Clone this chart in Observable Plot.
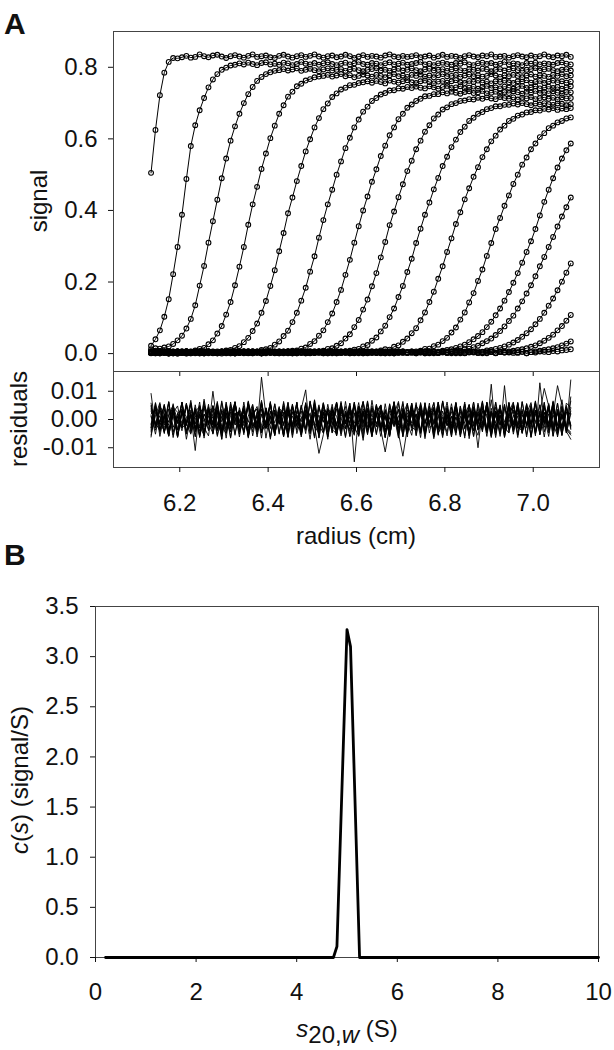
<!DOCTYPE html>
<html><head><meta charset="utf-8">
<script src="https://cdn.jsdelivr.net/npm/d3@7"></script>
<script src="https://cdn.jsdelivr.net/npm/@observablehq/plot@0.6"></script>
<style>
html,body{margin:0;padding:0;background:#fff;}
#wrap{position:relative;width:614px;height:1050px;background:#fff;overflow:hidden;}
#wrap svg{position:absolute;left:0;top:0;}
</style></head><body><div id="wrap"></div>
<script>
// radial grid (cm)
const radius = [
6.135,6.145,6.155,6.165,6.175,6.185,6.195,6.205,6.215,6.225,
6.235,6.245,6.255,6.265,6.275,6.285,6.295,6.305,6.315,6.325,
6.335,6.345,6.355,6.365,6.375,6.385,6.395,6.405,6.415,6.425,
6.435,6.445,6.455,6.465,6.475,6.485,6.495,6.505,6.515,6.525,
6.535,6.545,6.555,6.565,6.575,6.585,6.595,6.605,6.615,6.625,
6.635,6.645,6.655,6.665,6.675,6.685,6.695,6.705,6.715,6.725,
6.735,6.745,6.755,6.765,6.775,6.785,6.795,6.805,6.815,6.825,
6.835,6.845,6.855,6.865,6.875,6.885,6.895,6.905,6.915,6.925,
6.935,6.945,6.955,6.965,6.975,6.985,6.995,7.005,7.015,7.025,
7.035,7.045,7.055,7.065,7.075,7.085];

// signal of each scan, in thousandths
const scan01 = [505,625,722,785,815,826,825,828,832,827,
829,836,831,828,833,835,830,826,831,834,830,827,832,836,829,831,833,828,826,832,
835,830,827,831,834,829,832,836,830,827,831,833,828,830,835,831,826,830,834,829,
832,830,827,833,836,830,828,832,829,831,834,828,830,833,827,831,835,829,832,830,
826,831,834,830,828,833,831,836,829,830,832,827,831,834,830,828,833,829,831,836,
830,828,833,831,835,829];
const scan02 = [22,40,65,103,152,222,298,388,488,580,
638,680,714,744,766,781,793,799,805,807,811,808,813,809,806,812,814,808,810,807,
813,811,806,809,815,810,808,812,807,811,814,809,806,810,813,808,811,815,809,807,
812,810,806,811,814,808,810,813,807,809,812,815,808,810,806,811,813,809,807,812,
810,814,808,806,811,813,809,812,807,810,815,808,811,809,806,812,810,813,808,811,
809,807,812,814,810,808];
const scan03 = [12,15,14,17,20,27,37,50,70,97,
135,190,245,310,370,430,490,545,595,635,670,700,725,745,762,773,781,786,790,792,
795,791,794,797,790,793,796,792,789,794,797,791,793,795,790,794,796,792,789,793,
795,798,791,793,790,794,796,791,793,797,792,789,794,796,791,793,795,790,794,797,
792,790,795,793,791,796,794,789,793,795,791,794,797,792,790,793,795,798,791,794,
796,792,789,793,795,791];
const scan04 = [2,5,1,4,6,3,0,5,4,6,
9,13,16,26,37,56,77,109,144,191,243,298,360,417,466,516,559,602,637,670,
694,718,732,747,754,763,767,772,774,776,779,774,777,781,775,778,772,776,780,777,
774,779,776,772,778,781,775,777,773,779,776,780,774,777,772,778,781,775,776,779,
773,777,780,775,778,774,776,781,777,773,778,775,779,776,772,777,780,774,778,776,
773,779,776,781,775,777];
const scan05 = [4,1,5,3,0,6,2,4,5,1,
3,6,2,5,4,1,5,9,10,16,21,32,44,63,84,114,147,189,233,286,
337,392,436,482,524,565,599,632,658,683,699,717,727,738,743,750,751,756,758,761,
757,762,759,755,763,760,757,761,764,758,756,761,763,759,755,760,762,757,761,764,
758,756,762,759,763,757,760,755,761,759,763,758,756,761,760,764,757,759,762,756,
760,763,758,761,757,760];
const scan06 = [3,6,2,4,1,5,3,6,2,4,
5,1,4,6,2,3,5,1,4,6,2,5,3,6,4,10,12,16,25,34,
49,64,88,114,148,184,229,272,324,373,417,458,500,537,574,603,632,654,676,690,
706,714,724,728,735,736,741,740,745,742,746,743,741,747,744,740,745,748,742,744,
747,741,743,746,740,745,748,742,744,741,746,743,740,745,748,742,744,747,741,743,
746,742,745,740,744,747];
const scan07 = [1,4,6,2,5,3,0,4,6,2,
5,3,6,1,4,2,5,6,3,1,4,6,2,5,3,1,5,4,2,6,
3,5,8,9,14,17,27,35,50,65,88,112,144,178,220,262,310,356,400,439,
480,515,552,581,610,632,655,670,687,696,706,712,719,720,725,725,730,727,732,729,
726,731,733,728,730,734,727,729,732,726,731,728,733,730,726,732,729,734,728,731,
727,733,729,726,731,730];
const scan08 = [5,2,4,6,1,3,5,2,6,4,
1,5,3,6,2,4,0,5,3,6,2,4,6,1,5,3,6,2,4,5,
1,6,3,4,2,5,3,6,4,8,13,15,22,29,42,54,74,94,123,151,
188,225,269,312,359,397,437,473,510,539,571,595,620,638,657,668,682,688,697,700,
706,707,711,710,715,712,716,713,711,717,714,712,716,710,715,713,717,711,714,716,
712,715,710,716,713,714];
const scan09 = [3,6,1,4,5,2,6,3,0,4,
6,2,5,3,1,6,4,2,5,3,6,1,4,5,2,6,3,4,1,5,
3,6,2,4,5,1,6,3,5,2,4,6,3,5,2,8,11,13,20,24,
36,45,62,78,102,126,158,189,228,265,309,349,388,422,459,491,524,550,577,598,
619,634,650,659,670,675,683,686,691,691,695,695,699,696,700,697,694,699,696,700,
697,695,699,698,694,697];
const scan10 = [4,1,5,3,6,2,4,5,1,3,
6,4,2,5,3,1,6,4,2,5,3,6,1,4,5,2,3,6,4,1,
5,3,6,2,4,1,5,3,6,2,4,5,1,6,3,4,2,5,3,6,
4,3,9,12,11,19,23,33,42,57,71,93,115,144,173,209,244,284,322,362,
395,431,462,494,521,549,571,593,609,626,637,650,656,665,668,674,675,680,679,684,
682,686,681,685,683,686];
const scan11 = [2,5,3,6,1,4,5,2,6,3,
4,1,5,6,2,3,5,4,1,6,3,5,2,4,6,1,4,3,5,2,
6,4,1,5,3,6,2,4,5,3,1,6,4,2,5,3,6,1,4,5,
3,2,6,4,1,5,3,6,2,5,4,8,13,14,21,25,35,44,59,73,
95,115,143,169,203,235,273,309,348,379,413,442,474,500,528,548,571,587,605,616,
630,637,646,650,657,660];
const scan12 = [5,3,1,6,4,2,5,3,6,1,
4,6,2,5,3,1,4,6,2,5,3,4,6,1,5,2,3,6,4,1,
5,2,4,6,3,5,1,4,2,6,3,5,2,4,6,1,5,3,4,2,
6,3,5,1,4,6,2,5,3,4,1,6,4,2,5,3,8,10,12,16,
20,25,32,40,49,60,74,89,107,126,148,172,198,225,254,284,314,348,386,424,
458,490,520,545,568,587];
const scan13 = [3,6,2,4,1,5,6,3,2,4,
5,1,6,3,4,2,5,6,1,3,4,2,5,6,3,1,4,5,2,6,
3,4,1,5,6,2,4,3,5,1,6,4,2,5,3,6,1,4,5,2,
3,6,4,1,5,2,6,3,4,5,2,4,6,3,1,5,4,2,6,8,
9,12,14,18,22,29,35,42,52,63,76,91,106,126,146,168,191,216,244,270,
298,326,355,383,409,436];
const scan14 = [6,2,4,5,1,3,6,4,2,5,
3,6,1,4,5,2,6,3,4,1,5,3,6,2,4,1,5,6,3,4,
2,5,1,6,3,4,5,2,6,3,4,1,5,3,6,2,4,5,1,6,
3,5,2,4,6,1,3,5,4,2,6,3,5,1,4,2,6,3,5,4,
1,5,3,6,2,4,9,10,13,16,20,25,31,38,47,57,68,82,97,114,
134,154,177,201,226,252];
const scan15 = [4,2,6,3,5,1,4,6,2,3,
5,4,1,6,3,2,5,4,6,1,3,5,2,6,4,1,5,3,6,2,
4,6,3,1,5,2,4,6,3,5,2,4,1,5,6,3,2,4,5,1,
6,3,4,2,5,1,6,4,3,5,2,6,1,4,5,3,6,2,4,5,
3,1,6,4,2,5,3,6,1,4,5,3,8,10,12,15,19,23,29,36,
44,53,65,77,92,108];
const scan16 = [2,5,3,6,4,1,5,2,6,3,
4,6,1,5,3,2,4,6,5,1,3,6,2,4,5,1,6,3,4,2,
5,1,4,6,3,5,2,4,6,1,3,5,6,2,4,1,5,3,6,4,
2,5,1,6,3,4,5,2,4,6,1,3,5,4,6,2,3,5,1,4,
6,2,4,5,3,1,6,4,2,5,3,6,2,4,5,1,4,6,8,10,
12,15,18,23,28,34];
const scan17 = [5,3,6,2,4,1,5,3,6,4,
2,5,1,4,6,3,2,5,4,1,6,3,5,2,4,6,1,3,5,4,
2,6,4,1,5,3,6,2,4,5,1,4,6,3,5,2,4,6,1,3,
5,2,6,4,3,1,5,6,2,4,3,5,1,6,4,2,5,3,6,1,
4,2,5,3,6,4,1,5,2,6,3,4,6,2,5,1,4,3,6,5,
4,7,6,9,10,12];

// residuals of each scan, in units of 1e-4
const res01 = [92,-30,45,-12,60,-55,20,38,-70,15,5,-40,72,-18,33,-60,10,48,-25,-5,
30,-45,66,-8,-35,150,12,-62,25,-15,40,-28,55,-50,8,22,-38,70,-20,-48,
35,10,-58,28,-12,46,-33,18,62,-40,5,-25,50,-65,30,14,-44,38,-10,58,
-30,20,-52,44,-6,-36,64,-22,12,-48,36,-14,54,-60,26,8,-42,70,-28,16,
-50,40,-18,60,-35,22,-56,32,-8,48,-26,66,-45,14,-38,80];
const res02 = [-55,25,-10,48,-35,12,-60,30,-22,55,-40,18,-8,42,-50,26,-70,38,-15,60,
-28,8,-45,35,-62,20,-12,50,-36,14,-58,40,-20,62,-48,10,-30,52,-66,24,
-16,44,-54,28,-6,58,-150,16,-74,36,-24,50,-38,12,-60,46,-18,30,-52,22,
-10,56,-44,34,-68,18,-26,48,-40,8,-56,38,-20,62,-34,14,-48,28,-12,52,
-64,20,-30,44,-50,26,-16,58,-38,10,-60,32,-22,48,-42,-70];
const res03 = [30,-20,55,-45,15,40,-62,22,-8,68,-30,10,-50,36,-18,58,-40,24,-66,46,
-12,30,-55,20,-35,62,-25,12,-48,38,-60,28,-15,50,-42,18,-70,44,-22,60,
-32,8,-52,34,-14,56,-46,26,-64,40,-18,52,-36,14,-58,30,-10,64,-44,22,
-26,48,-60,16,-38,58,-20,36,-50,10,-30,54,-68,28,-12,46,-40,20,-56,38,
-24,62,-34,12,-48,42,-16,66,-52,24,-28,50,-62,18,-36,140];
const res04 = [-20,48,-36,12,-58,30,-14,62,-44,20,-28,50,-66,36,-10,56,-48,24,-32,60,
-52,14,-40,44,-18,68,-30,8,-54,38,-22,58,-46,16,-62,32,-12,52,-38,26,
-70,42,-20,64,-34,10,-50,46,-26,56,-42,18,-60,36,-16,62,-48,-130,-30,54,
-58,22,-14,48,-40,12,-64,40,-24,58,-36,16,-52,44,-8,66,-44,26,-34,50,
-62,20,-18,56,-46,30,-28,60,-54,14,-38,46,-20,70,-32,-50];
const res05 = [45,-15,30,-50,62,-28,12,-40,55,-22,38,-64,20,-8,48,-36,66,-18,26,-56,
42,-12,60,-30,16,-48,34,-70,22,-14,58,-44,28,-20,50,-38,64,-24,-120,-54,
40,-16,62,-32,18,-60,46,-10,30,-50,68,-26,14,-42,56,-20,36,-62,24,-12,
52,-46,32,-18,60,-34,8,-58,44,-22,28,-66,50,-14,38,-40,62,-28,16,-52,
46,-10,34,-56,64,-24,20,-44,52,-18,40,-60,26,-30,58,42];
const res06 = [-38,60,-22,14,-48,40,-64,28,-12,56,-34,20,-58,46,-18,32,-70,50,-26,10,
-44,62,-30,24,-52,38,-16,58,-40,18,-62,44,-24,12,-56,36,-20,66,-46,26,
-14,54,-36,8,-60,48,-28,30,-50,64,-18,22,-42,56,-32,14,-66,40,-22,34,
-54,60,-10,28,-46,50,-30,18,-62,44,-20,36,-58,24,-12,62,-40,125,-48,16,
-26,58,-44,38,-16,52,-64,20,-34,46,-24,60,-50,12,-36,-55];
const res07 = [15,-52,36,-20,64,-44,10,-30,58,-26,42,-60,18,-14,50,-38,28,-66,46,-10,
34,-54,62,-24,12,-48,40,-32,56,-18,26,-62,44,-8,30,-50,66,-28,16,-42,
54,-20,38,-58,22,-12,60,-36,32,-46,48,-16,24,-64,42,-26,14,-52,58,-30,
20,-40,50,-22,36,-56,64,-10,28,-44,46,-34,18,-60,52,-18,40,-28,62,-48,
120,-36,56,-24,30,-54,44,-14,22,-62,38,-20,58,-42,26,20];
const res08 = [-62,34,-16,52,-40,24,-8,60,-48,18,-110,46,-56,30,-20,64,-36,12,-44,56,
-24,38,-66,20,-12,50,-34,28,-58,42,-18,62,-40,16,-28,54,-50,22,-10,58,
-44,32,-24,48,-64,26,-14,60,-38,20,-52,44,-30,14,-60,36,-18,56,-46,28,
-22,50,-68,34,-12,62,-42,18,-32,54,-56,24,-16,46,-38,30,-60,40,-26,12,
-50,58,-20,36,-44,22,-34,64,-54,26,-14,48,-40,18,-30,-45];
const res09 = [58,-26,14,-46,38,-64,22,-12,52,-34,30,-56,48,-18,10,-40,60,-28,36,-50,
18,-22,56,-44,28,-66,42,-14,34,-52,64,-20,12,-38,50,-30,24,-60,46,-10,
32,-48,58,-24,16,-42,62,-32,20,-54,40,-16,28,-62,54,-12,36,-44,14,-26,
60,-50,26,-18,44,-36,66,-22,10,-56,48,-30,22,-40,58,-14,34,-64,30,-20,
52,-46,16,-32,62,-24,40,-58,130,-10,50,-38,28,-54,44,-30];
const res10 = [-28,44,-60,20,-10,56,-38,26,-52,34,-16,62,-44,12,-30,48,-58,24,-20,64,
-36,16,-50,40,-24,58,-66,30,-12,46,-42,22,-34,60,-54,18,-26,52,-40,10,
-62,38,-18,56,-32,28,-48,44,-14,66,-56,20,-36,-115,-24,32,-60,14,-44,58,
-20,36,-50,26,-16,62,-38,12,-58,42,-28,54,-46,18,-22,60,-34,30,-64,40,
-10,48,-52,24,-40,56,-18,34,-30,62,-48,16,-36,44,-26,65];
const res11 = [20,35,-10,-42,18,50,-5,-30,44,12,-58,26,40,-16,-48,30,8,-36,54,-20,
-4,46,-62,16,38,-28,-12,60,-34,22,-50,10,48,-24,-40,32,14,-66,42,-8,
28,-46,56,-18,-30,36,20,-54,64,-14,-38,26,50,-44,6,-22,58,-60,34,12,
-26,44,-52,18,40,-36,-8,62,-30,24,-48,16,52,-20,-56,38,10,-42,60,-12,
-34,46,28,-64,30,-16,54,-40,22,110,48,-58,36,-24,42,-35];
const res12 = [-44,12,60,-28,-6,40,-54,34,-18,26,-62,48,4,-36,100,-20,30,-48,14,62,
-40,-10,44,-58,22,36,-30,-14,54,-46,18,40,-64,28,-8,50,-34,16,-52,58,
-22,32,-42,10,46,-60,24,-16,64,-38,20,-50,42,-26,8,56,-44,30,-12,-56,
48,26,-32,14,60,-48,-18,38,-24,52,-62,12,34,-40,20,-28,58,-50,44,-6,
-36,26,62,-54,16,-20,40,-46,30,-10,56,-42,24,-30,50,-25];
const res13 = [10,-38,46,22,-56,30,-14,58,-42,-8,36,-60,50,16,-32,44,-24,-50,62,-18,
28,-46,12,54,-36,-20,40,-64,34,-10,48,-52,24,14,-40,60,-28,-16,52,-48,
38,20,-58,42,-12,-34,56,-44,26,8,-62,46,-22,32,-54,18,64,-30,-6,50,
-40,28,-18,58,-56,36,12,-46,44,-26,-14,62,-38,24,-100,40,16,-60,30,-20,
54,-34,-10,48,-44,22,60,-50,18,-28,42,-16,-56,38,-30,40];
const res14 = [-16,50,-34,8,-60,42,26,-22,56,-48,14,-30,64,-40,20,-54,36,-12,-44,60,
-26,32,-58,16,46,-38,-18,54,-52,28,10,-64,44,-24,38,105,-50,58,-32,22,
-46,12,62,-42,30,-20,-56,48,-8,36,-60,24,52,-34,-16,40,-48,18,56,-28,
-38,46,-12,30,-62,50,-22,14,-44,58,-30,26,-54,42,-10,-36,60,-46,20,34,
-58,16,48,-26,-40,56,-18,28,-50,44,-14,62,-36,22,-48,20];
const res15 = [38,-24,-8,54,-46,20,-36,62,-14,-52,30,44,-28,-58,48,12,-40,56,-20,24,
-62,36,-10,50,-44,18,-30,64,-48,26,-16,42,-56,32,8,-38,60,-22,-50,46,
16,-34,58,-42,28,-12,52,-60,22,-26,40,-54,34,14,-46,62,-18,-32,50,-40,
20,-64,44,-8,36,-52,30,-20,56,-36,12,-58,48,-24,26,-44,60,-14,-38,42,
-50,18,54,-30,-10,46,-62,32,-22,58,-40,16,120,52,-48,30];
const res16 = [-30,58,-46,16,-20,44,-62,34,10,-40,52,-24,-56,30,40,-14,-50,62,-32,22,
-8,48,-60,26,36,-42,-18,56,-34,14,-54,46,-26,60,-44,20,-12,50,-64,32,
24,-36,-50,58,-16,42,-28,-58,38,12,-46,54,-22,28,-40,64,-30,16,-52,44,
-10,-38,60,-48,24,34,-56,18,-24,50,-42,30,-14,62,-36,-20,46,-58,22,40,
-28,-48,56,-16,36,-62,26,-8,52,-44,20,-32,58,-54,28,-20];
const res17 = [50,-12,-40,36,-58,24,48,-30,-16,60,-44,18,-26,54,-52,32,-8,42,-64,20,
28,-46,56,-18,-36,62,-28,14,-56,40,22,-48,52,-10,-34,58,-42,26,-20,46,
-60,30,12,-50,64,-24,-38,44,-14,34,-54,16,50,-40,-22,56,-32,24,-62,38,
10,-46,58,-28,-18,48,-56,30,-12,62,-36,20,-50,42,-26,-8,54,-44,28,-60,
36,14,-40,60,-20,-30,46,-52,22,-14,56,-38,32,-58,44,-20];

// c(s) distribution
const sValues = [0.2, 4.73, 4.80, 5.0, 5.07, 5.25, 10];
const cValues = [0, 0, 0.11, 3.27, 3.10, 0, 0];

// tick values
const signalTicks = [0, 0.2, 0.4, 0.6, 0.8];
const residTicks = [-0.01, 0, 0.01];
const radiusTicks = [6.2, 6.4, 6.6, 6.8, 7.0];
const cTicks = [0, 0.5, 1.0, 1.5, 2.0, 2.5, 3.0, 3.5];
const sTicks = [0, 2, 4, 6, 8, 10];

const scans = [scan01,scan02,scan03,scan04,scan05,scan06,scan07,scan08,scan09,scan10,scan11,scan12,scan13,scan14,scan15,scan16,scan17];
const resids = [res01,res02,res03,res04,res05,res06,res07,res08,res09,res10,res11,res12,res13,res14,res15,res16,res17];

const rows = [];
scans.forEach((arr, k) => arr.forEach((v, i) => { if (i < radius.length) rows.push({r: radius[i], v: v / 1000, scan: k}); }));
const resRows = [];
resids.forEach((arr, k) => arr.forEach((v, i) => { if (i < radius.length) resRows.push({r: radius[i], e: v / 10000, scan: k}); }));
const csRows = sValues.map((s, i) => ({s, c: cValues[i]}));

const FONT = "'Liberation Sans', Arial, Helvetica, sans-serif";
const FS = 24;
const baseStyle = {background: "transparent", fontFamily: FONT, fontSize: FS + "px", color: "#111", overflow: "visible"};

const plotA = Plot.plot({
  width: 614, height: 379, marginTop: 31, marginBottom: 8, marginLeft: 113, marginRight: 15,
  style: baseStyle,
  x: {domain: [6.05, 7.15]},
  y: {domain: [-0.05, 0.9]},
  marks: [
    Plot.frame({stroke: "#444", strokeWidth: 1}),
    Plot.axisY({ticks: signalTicks, tickSize: 5, tickPadding: 11, tickFormat: d => d.toFixed(1), label: null, fontSize: FS}),
    Plot.axisX({ticks: radiusTicks, tickSize: 5, tickFormat: () => "", label: null}),
    Plot.line(rows, {x: "r", y: "v", z: "scan", stroke: "#000", strokeWidth: 1}),
    Plot.dot(rows, {x: "r", y: "v", r: 2.4, stroke: "#000", strokeWidth: 1.1, fill: "none"})
  ]
});

const plotR = Plot.plot({
  width: 614, height: 567, marginTop: 371, marginBottom: 100, marginLeft: 113, marginRight: 15,
  style: baseStyle,
  x: {domain: [6.05, 7.15]},
  y: {domain: [-0.017, 0.017]},
  marks: [
    Plot.frame({stroke: "#444", strokeWidth: 1}),
    Plot.axisY({ticks: residTicks, tickSize: 5, tickPadding: 11, tickFormat: d => d.toFixed(2), label: null, fontSize: FS}),
    Plot.axisX({ticks: radiusTicks, tickSize: 5, tickPadding: 21, tickFormat: d => d.toFixed(1), label: null, fontSize: FS}),
    Plot.line(resRows, {x: "r", y: "e", z: "scan", stroke: "#000", strokeWidth: 0.9})
  ]
});

const plotB = Plot.plot({
  width: 614, height: 1050, marginTop: 606, marginBottom: 93, marginLeft: 95, marginRight: 16,
  style: baseStyle,
  x: {domain: [0, 10]},
  y: {domain: [0, 3.5]},
  marks: [
    Plot.frame({stroke: "#444", strokeWidth: 1}),
    Plot.axisY({ticks: cTicks, tickSize: 5, tickPadding: 12, tickFormat: d => d.toFixed(1), label: null, fontSize: FS}),
    Plot.axisX({ticks: sTicks, tickSize: 5, tickPadding: 20, tickFormat: d => String(d), label: null, fontSize: FS}),
    Plot.line(csRows, {x: "s", y: "c", stroke: "#000", strokeWidth: 2.8, strokeLinejoin: "round"})
  ]
});

const wrap = document.getElementById("wrap");
[plotA, plotR, plotB].forEach(p => {
  p.style.position = "absolute"; p.style.left = "0px"; p.style.top = "0px";
  wrap.appendChild(p);
});

// panel letters and axis titles
const ns = "http://www.w3.org/2000/svg";
const ov = document.createElementNS(ns, "svg");
ov.setAttribute("width", 614); ov.setAttribute("height", 1050);
ov.setAttribute("font-family", FONT);
ov.setAttribute("font-size", FS);
ov.setAttribute("fill", "#111");
ov.innerHTML = `
<text x="4" y="34" font-size="30" font-weight="bold">A</text>
<text x="4" y="565" font-size="30" font-weight="bold">B</text>
<text transform="translate(47,201) rotate(-90)" text-anchor="middle">signal</text>
<text transform="translate(26.5,419) rotate(-90)" text-anchor="middle">residuals</text>
<text x="356" y="544" text-anchor="middle">radius (cm)</text>
<text transform="translate(28,780) rotate(-90)" text-anchor="middle"><tspan font-style="italic">c</tspan>(<tspan font-style="italic">s</tspan>) (signal/S)</text>
<text x="347" y="1037" text-anchor="middle"><tspan font-style="italic">s</tspan><tspan dy="6">20,</tspan><tspan font-style="italic">w</tspan><tspan dy="-6"> (S)</tspan></text>
`;
ov.style.position = "absolute"; ov.style.left = "0px"; ov.style.top = "0px";
wrap.appendChild(ov);
</script>
</body></html>
